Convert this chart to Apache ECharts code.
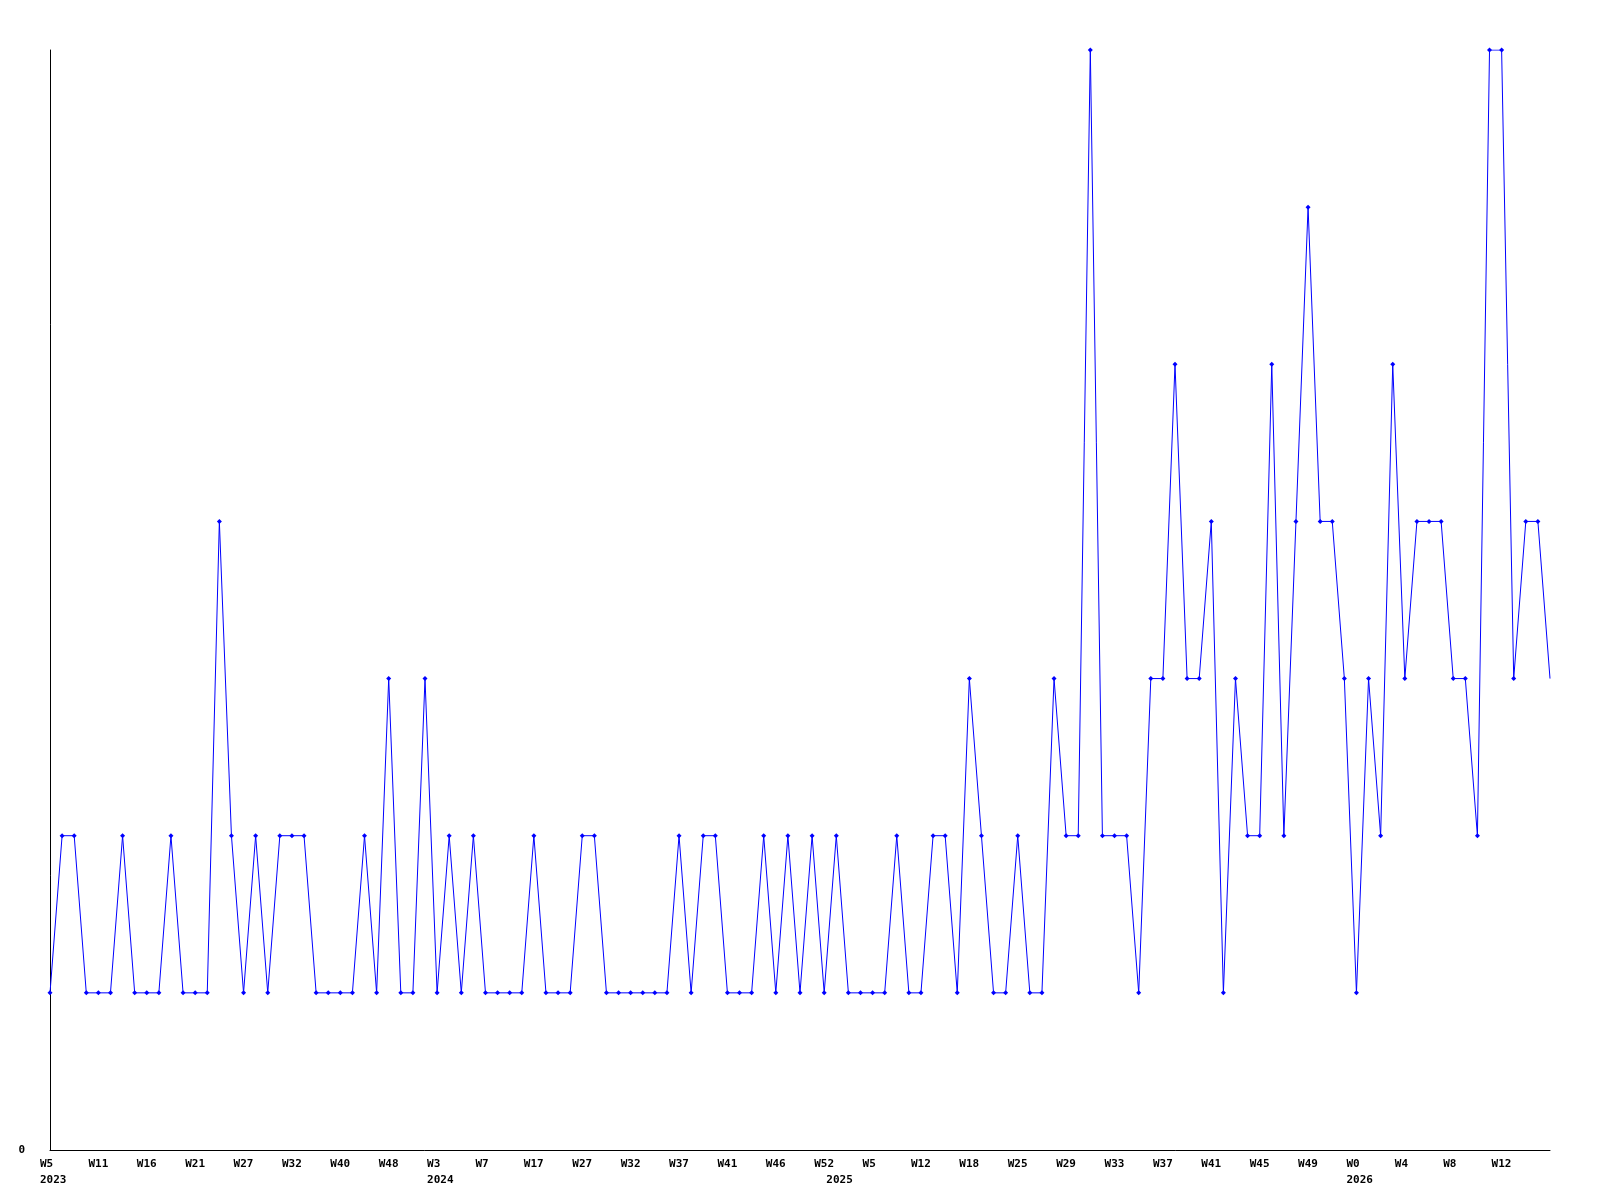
<!DOCTYPE html>
<html><head><meta charset="utf-8">
<script src="https://cdn.jsdelivr.net/npm/echarts@6/dist/echarts.min.js"></script>
<style>html,body{margin:0;padding:0;background:#fff}#c{width:1600px;height:1200px}</style>
</head><body><div id="c"></div>
<script>
// Week categories (year-week), one per data point
const categories = [
  '2023-W5','2023-W6','2023-W8','2023-W9','2023-W11','2023-W12','2023-W14','2023-W15','2023-W16','2023-W18',
  '2023-W19','2023-W20','2023-W21','2023-W23','2023-W24','2023-W26','2023-W27','2023-W28','2023-W30','2023-W31',
  '2023-W32','2023-W34','2023-W36','2023-W38','2023-W40','2023-W42','2023-W44','2023-W46','2023-W48','2023-W50',
  '2023-W51','2023-W52',
  '2024-W3','2024-W4','2024-W5','2024-W6','2024-W7','2024-W9','2024-W12','2024-W14','2024-W17','2024-W19',
  '2024-W22','2024-W24','2024-W27','2024-W28','2024-W29','2024-W31','2024-W32','2024-W33','2024-W35','2024-W36',
  '2024-W37','2024-W38','2024-W39','2024-W40','2024-W41','2024-W42','2024-W44','2024-W45','2024-W46','2024-W48',
  '2024-W49','2024-W51','2024-W52',
  '2025-W1','2025-W2','2025-W4','2025-W5','2025-W7','2025-W9','2025-W10','2025-W12','2025-W13','2025-W15',
  '2025-W17','2025-W18','2025-W20','2025-W22','2025-W24','2025-W25','2025-W26','2025-W27','2025-W28','2025-W29',
  '2025-W30','2025-W31','2025-W32','2025-W33','2025-W34','2025-W35','2025-W36','2025-W37','2025-W38','2025-W39',
  '2025-W40','2025-W41','2025-W42','2025-W43','2025-W44','2025-W45','2025-W46','2025-W47','2025-W48','2025-W49',
  '2025-W50','2025-W51','2025-W52',
  '2026-W0','2026-W1','2026-W2','2026-W3','2026-W4','2026-W5','2026-W6','2026-W7','2026-W8','2026-W9',
  '2026-W10','2026-W11','2026-W12','2026-W13','2026-W14','2026-W15','2026-W16'
];
const values = [
  1,2,2,1,1,1,2,1,1,1,
  2,1,1,1,4,2,1,2,1,2,
  2,2,1,1,1,1,2,1,3,1,
  1,3,1,2,1,2,1,1,1,1,
  2,1,1,1,2,2,1,1,1,1,
  1,1,2,1,2,2,1,1,1,2,
  1,2,1,2,1,2,1,1,1,1,
  2,1,1,2,2,1,3,2,1,1,
  2,1,1,3,2,2,7,2,2,2,
  1,3,3,5,3,3,4,1,3,2,
  2,5,2,4,6,4,4,3,1,3,
  2,5,3,4,4,4,3,3,2,7,
  7,3,4,4,3
];
const yMin = 0, yMax = 7;
const yTickLabels = ['0'];

const FONT = 'DejaVu Sans Mono';
const yearOf = c => c.split('-')[0];
const weekOf = c => c.split('-')[1];
const isYearStart = i => i === 0 || yearOf(categories[i]) !== yearOf(categories[i - 1]);
const lastIdx = categories.length - 1;
const showWeek = i => i % 4 === 0 && i !== lastIdx;

const chart = echarts.init(document.getElementById('c'), null, {renderer: 'canvas'});
chart.setOption({
  animation: false,
  backgroundColor: '#ffffff',
  grid: [
    {left: 50, right: 50, top: 50, bottom: 50, outerBoundsMode: 'none'},
    {left: 40, right: 60, top: 50, bottom: 50, outerBoundsMode: 'none'}
  ],
  xAxis: [
    {
      gridIndex: 0, type: 'category', data: categories, boundaryGap: false,
      axisLine: {show: true, lineStyle: {color: '#000', width: 1}},
      axisTick: {show: false}, axisLabel: {show: false}, splitLine: {show: false}
    },
    {
      gridIndex: 1, type: 'category', data: categories, boundaryGap: false,
      axisLine: {show: false}, axisTick: {show: false}, splitLine: {show: false},
      axisLabel: {
        show: true,
        interval: (i) => showWeek(i) || isYearStart(i),
        formatter: (v, i) => (showWeek(i) ? weekOf(v) : '') + '\n' + (isYearStart(i) ? yearOf(v) : ''),
        align: 'left', verticalAlign: 'top', lineHeight: 16, margin: 6,
        color: '#000', fontFamily: FONT, fontWeight: 'bold', fontSize: 11
      }
    }
  ],
  yAxis: [
    {
      gridIndex: 0, type: 'value', min: yMin, max: yMax, interval: yMax - yMin,
      axisLine: {show: true, lineStyle: {color: '#000', width: 1}},
      axisTick: {show: false}, splitLine: {show: false},
      axisLabel: {
        formatter: v => (yTickLabels.indexOf(String(v)) >= 0 ? String(v) : ''),
        margin: 25, color: '#000', fontFamily: FONT, fontWeight: 'bold', fontSize: 11
      }
    },
    {gridIndex: 1, type: 'value', min: yMin, max: yMax, show: false}
  ],
  series: [{
    type: 'line', xAxisIndex: 0, yAxisIndex: 0, data: values,
    symbol: (v, p) => (p.dataIndex === lastIdx ? 'none' : 'diamond'),
    symbolSize: 5, showAllSymbol: true,
    lineStyle: {color: '#0000ff', width: 1},
    itemStyle: {color: '#0000ff'},
    emphasis: {disabled: true}
  }]
});
</script>
</body></html>
